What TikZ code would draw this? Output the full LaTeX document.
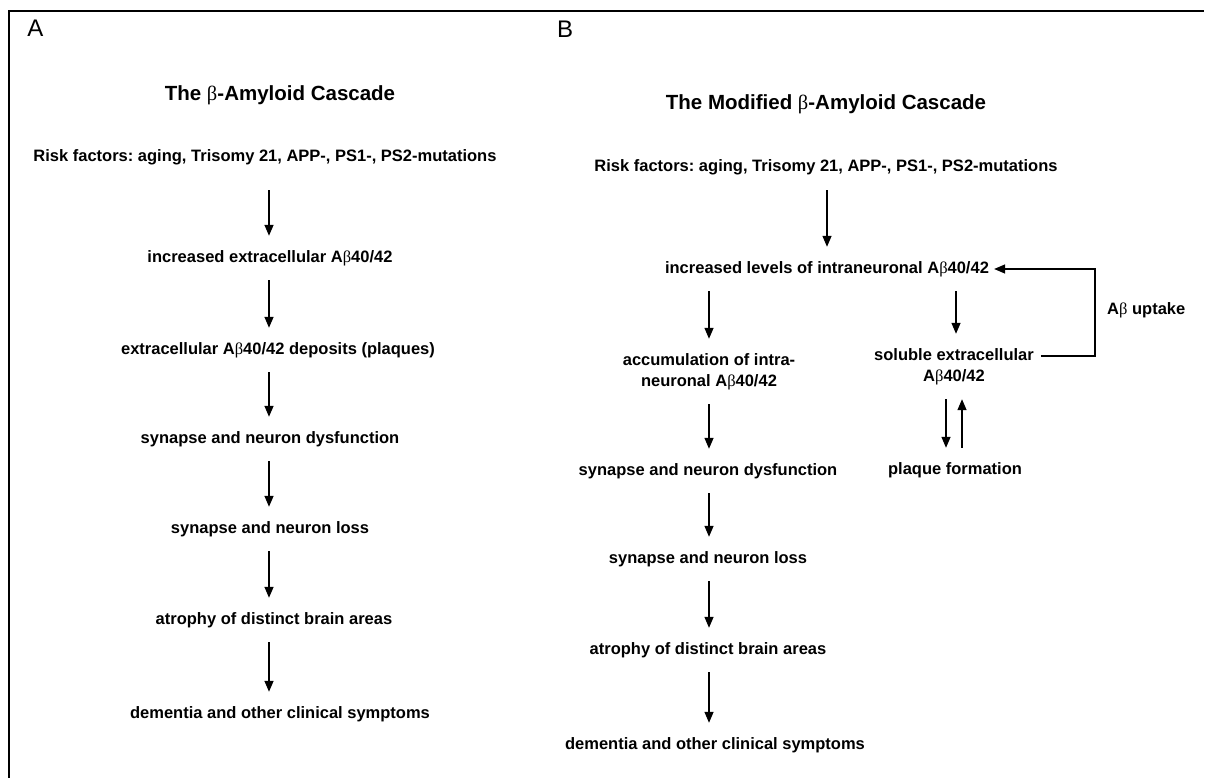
\documentclass[tikz,border=0pt]{standalone}
\usepackage{fontspec}
\setmainfont{Liberation Sans}
\newfontfamily\grkfont{Liberation Serif}
\usetikzlibrary{arrows.meta}
\newcommand{\Abeta}{A{\grkfont\mdseries β}}
\newcommand{\gbeta}{{\grkfont\mdseries β}}
\frenchspacing
\begin{document}
\begin{tikzpicture}[x=1pt,y=-1pt,
  txt/.style={font=\fontsize{16.5}{21}\selectfont\bfseries, inner xsep=0pt, inner ysep=14pt,
              text height=12pt, text depth=4pt, anchor=center},
  ttl/.style={font=\fontsize{20.5}{24}\selectfont\bfseries, inner sep=0pt},
  lbl/.style={font=\fontsize{24}{28}\selectfont, inner sep=0pt},
  arr/.style={line width=1.4pt, -{Triangle[length=11pt,width=9pt]}},
  frame/.style={line width=2.6pt}
]
\useasboundingbox (0,0) rectangle (1205,778);
% frame (top and left edges only)
\coordinate (fbl) at (9,779);
\coordinate (ftl) at (9,11);
\coordinate (ftr) at (1204,11);
\draw[frame] (fbl) -- (ftl) -- (ftr);

% panel labels
\node[lbl] (labA) at (35.5,28) {A};
\node[lbl] (labB) at (565,29) {B};

% ---------- Panel A ----------
\node[ttl] (tA) at (280,95) {The \gbeta-Amyloid Cascade};
\coordinate (cA) at (269,0);
\node[txt] (rA)  at (265,158) {Risk factors: aging, Trisomy 21, APP-, PS1-, PS2-mutations};
\node[txt] (iA)  at (270,258) {increased extracellular \Abeta40/42};
\node[txt] (dA)  at (278,350) {extracellular \Abeta40/42 deposits (plaques)};
\node[txt] (sA)  at (270,439) {synapse and neuron dysfunction};
\node[txt] (lA)  at (270,529) {synapse and neuron loss};
\node[txt] (aA)  at (274,620) {atrophy of distinct brain areas};
\node[txt] (mA)  at (280,714) {dementia and other clinical symptoms};
\draw[arr, shorten <=10pt] (rA.south -| cA) -- (iA.north -| cA);
\draw[arr] (iA.south -| cA) -- (dA.north -| cA);
\draw[arr] (dA.south -| cA) -- (sA.north -| cA);
\draw[arr] (sA.south -| cA) -- (lA.north -| cA);
\draw[arr] (lA.south -| cA) -- (aA.north -| cA);
\draw[arr] (aA.south -| cA) -- (mA.north -| cA);

% ---------- Panel B ----------
\node[ttl] (tB) at (826,104) {The Modified \gbeta-Amyloid Cascade};
\coordinate (cB) at (827,0);
\coordinate (cL) at (709,0);
\coordinate (cR) at (956,0);
\coordinate (cRd) at (946,0);
\coordinate (cRu) at (962,0);
\node[txt] (rB)  at (826,168) {Risk factors: aging, Trisomy 21, APP-, PS1-, PS2-mutations};
\node[txt] (iB)  at (827,269) {increased levels of intraneuronal \Abeta40/42};
\node[txt] (acc) at (709,361) {accumulation of intra-};
\node[txt] (accb) at (709,382) {neuronal \Abeta40/42};
\node[txt] (sol) at (954,356) {soluble extracellular};
\node[txt] (solb) at (954,377) {\Abeta40/42};
\node[txt] (pl)  at (955,470) {plaque formation};
\node[txt] (sB)  at (708,471) {synapse and neuron dysfunction};
\node[txt] (lB)  at (708,559) {synapse and neuron loss};
\node[txt] (aB)  at (708,650) {atrophy of distinct brain areas};
\node[txt] (mB)  at (715,745) {dementia and other clinical symptoms};
\node[txt, anchor=west] (upt) at (1107,310) {\Abeta\ uptake};
\coordinate (fbk) at (1095,310);

\draw[arr] (rB.south -| cB) -- (iB.north -| cB);
\draw[arr] (iB.south -| cL) -- (acc.north -| cL);
\draw[arr] (iB.south -| cR) -- (sol.north -| cR);
\draw[arr] (accb.south -| cL) -- (sB.north -| cL);
\draw[arr] (solb.south -| cRd) -- (pl.north -| cRd);
\draw[arr] (pl.north -| cRu) -- (solb.south -| cRu);
\draw[arr] (sB.south -| cL) -- (lB.north -| cL);
\draw[arr] (lB.south -| cL) -- (aB.north -| cL);
\draw[arr] (aB.south -| cL) -- (mB.north -| cL);
\draw[arr, line cap=butt] ([xshift=7pt]sol.east) -| (fbk) |- ([xshift=5pt]iB.east);
\end{tikzpicture}
\end{document}
